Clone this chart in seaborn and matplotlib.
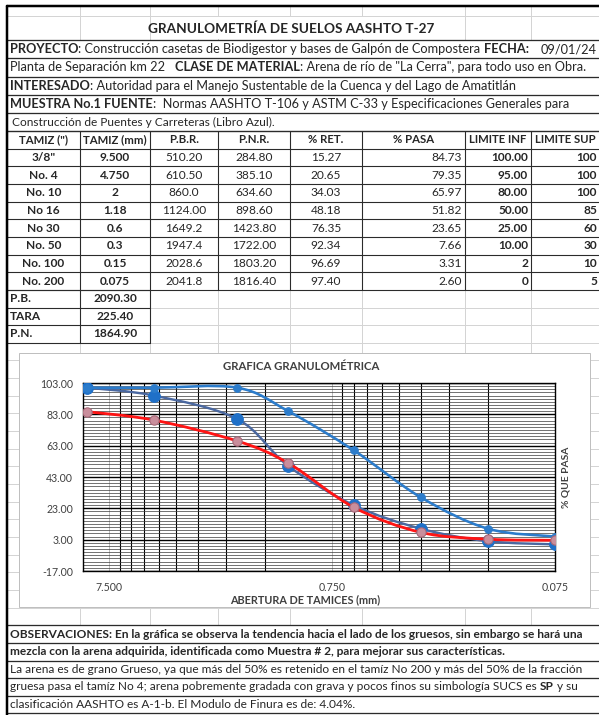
import numpy as np
import matplotlib
matplotlib.use("Agg")
import matplotlib.pyplot as plt
import seaborn as sns
from matplotlib.path import Path
from matplotlib.patches import PathPatch, Rectangle
from matplotlib.ticker import FixedLocator, FuncFormatter, NullFormatter

# ---- valores de la hoja ----
tamiz_pulg = ['3/8"', "No. 4", "No. 10", "No 16", "No 30", "No. 50", "No. 100", "No. 200"]
tamiz_mm = [9.5, 4.75, 2.0, 1.18, 0.6, 0.3, 0.15, 0.075]
tamiz_mm_lbl = ["9.500", "4.750", "2", "1.18", "0.6", "0.3", "0.15", "0.075"]
pbr = ["510.20", "610.50", "860.0", "1124.00", "1649.2", "1947.4", "2028.6", "2041.8"]
pnr = ["284.80", "385.10", "634.60", "898.60", "1423.80", "1722.00", "1803.20", "1816.40"]
pct_ret = [15.27, 20.65, 34.03, 48.18, 76.35, 92.34, 96.69, 97.40]
pct_pasa = [84.73, 79.35, 65.97, 51.82, 23.65, 7.66, 3.31, 2.60]
lim_inf = [100, 95, 80, 50, 25, 10, 2, 0]
lim_inf_lbl = ["100.00", "95.00", "80.00", "50.00", "25.00", "10.00", "2", "0"]
lim_sup = [100, 100, 100, 85, 60, 30, 10, 5]
tot_lbl = ["P.B.", "TARA", "P.N."]
tot_val = ["2090.30", "225.40", "1864.90"]
headers = ['TAMIZ (")', "TAMIZ (mm)", "P.B.R.", "P.N.R.", "% RET.", "% PASA", "LIMITE INF", "LIMITE SUP"]
y_ticks = [-17, 3, 23, 43, 63, 83, 103]
x_ticks = [7.5, 0.75, 0.075]

sns.set_style("white")
plt.rcParams["font.family"] = ["Lato", "DejaVu Sans"]

W, H = 599, 715
fig = plt.figure(figsize=(W / 100, H / 100), dpi=100)
bg = fig.add_axes([0, 0, 1, 1])
bg.set_xlim(0, W)
bg.set_ylim(H, 0)
bg.axis("off")


def lw(p):
    return p * 0.72


FS = 8.6      # tabla
FS_TXT = 9.2  # filas de texto de arriba
FS_OBS = 8.55  # observaciones
LIGHT = "#D4D4D4"
DARK = "#2B2B2B"
cols = [7, 80, 150, 218, 290, 362, 465, 531, 605]
rh = 17.65
y_head = 131
top_rows = [40, 58.2, 76.6, 95, 113.2, y_head]
tab_rows = [y_head + rh * k for k in range(0, 13)]
obs_rows = [y_head + rh * k for k in range(28, 34)]
grid_rows = [y_head + rh * k for k in range(0, 34)]

# cuadricula clara de la hoja
for x in cols[1:-1]:
    bg.plot([x, x], [6, H], color=LIGHT, lw=lw(1), zorder=1)
for y in [16] + top_rows + grid_rows:
    bg.plot([7, W], [y, y], color=LIGHT, lw=lw(1), zorder=1)
# zonas con texto desbordado (sin cuadricula)
bg.add_patch(Rectangle((8, top_rows[0]), W, y_head - top_rows[0], fc="white", ec="none", zorder=2))
bg.add_patch(Rectangle((152, 17), 290, top_rows[0] - 18, fc="white", ec="none", zorder=2))
bg.add_patch(Rectangle((8, obs_rows[0]), W, H, fc="white", ec="none", zorder=2))
bg.add_patch(Rectangle((19, 353), 571, 254, fc="white", ec="#BFBFBF", lw=lw(1), zorder=3))

# bordes oscuros
bg.plot([7, W], [6, 6], color="black", lw=lw(2.5), zorder=6)
bg.plot([7, 7], [6, H], color="black", lw=lw(2.5), zorder=6)
for y in top_rows:
    bg.plot([7, W], [y, y], color=DARK, lw=lw(1.3), zorder=5)
for y in tab_rows[:10]:
    bg.plot([7, W], [y, y], color=DARK, lw=lw(1.1), zorder=5)
for x in cols[:-1]:
    bg.plot([x, x], [tab_rows[0], tab_rows[9]], color=DARK, lw=lw(1.1), zorder=5)
for y in tab_rows[9:13]:
    bg.plot([7, 150], [y, y], color=DARK, lw=lw(1.1), zorder=5)
for x in cols[:3]:
    bg.plot([x, x], [tab_rows[9], tab_rows[12]], color=DARK, lw=lw(1.1), zorder=5)
for y in obs_rows:
    bg.plot([7, W], [y, y], color=DARK, lw=lw(1.3), zorder=5)


def rich(x, y, parts, size=FS_TXT):
    prev = None
    for txt, w, gap in parts:
        if prev is None:
            prev = bg.text(x, y, txt, fontsize=size, fontweight=w, ha="left", va="center", zorder=7)
        else:
            prev = bg.annotate(txt, xy=(1, 0.5), xycoords=prev, xytext=(gap * 0.26 * size, 0),
                               textcoords="offset points", fontsize=size, fontweight=w,
                               ha="left", va="center", zorder=7)


def mid(r, k):
    return (r[k] + r[k + 1]) / 2


bg.text(291, 29, "GRANULOMETRÍA DE SUELOS AASHTO T-27", fontsize=9.8, fontweight="bold",
        ha="center", va="center", zorder=7)
rich(10, mid(top_rows, 0), [("PROYECTO", "bold", 0),
                            (": Construcción casetas de Biodigestor y bases de Galpón de Compostera", "normal", 0),
                            ("FECHA:", "bold", 1)])
bg.text(597, mid(top_rows, 0), "09/01/24", fontsize=FS_TXT, ha="right", va="center", zorder=7)
rich(10, mid(top_rows, 1), [("Planta de Separación km 22", "normal", 0), ("CLASE DE MATERIAL", "bold", 3),
                            (': Arena de río de "La Cerra", para todo uso en Obra.', "normal", 0)])
rich(10, mid(top_rows, 2), [("INTERESADO", "bold", 0),
                            (": Autoridad para el Manejo Sustentable de la Cuenca y del Lago de Amatitlán", "normal", 0)])
rich(10, mid(top_rows, 3), [("MUESTRA No.1 FUENTE", "bold", 0),
                            (":  Normas AASHTO T-106 y ASTM C-33 y Especificaciones Generales para", "normal", 0)])
rich(12, mid(top_rows, 4), [("Construcción de Puentes y Carreteras (Libro Azul).", "normal", 0)], size=8.6)

# tabla
for j, h in enumerate(headers):
    bg.text((cols[j] + cols[j + 1]) / 2 if j < 7 else 565, mid(tab_rows, 0), h, fontsize=8.2,
            fontweight="bold", ha="center", va="center", zorder=7)


def cell(j, k, txt, ha="center", bold=False):
    x = (cols[j] + cols[j + 1]) / 2 if ha == "center" else min(cols[j + 1] - 3, 597)
    bg.text(x, mid(tab_rows, k), txt, fontsize=FS, fontweight="bold" if bold else "normal",
            ha=ha, va="center", zorder=7)


for i in range(len(tamiz_mm)):
    k = 1 + i
    cell(0, k, tamiz_pulg[i], bold=True)
    cell(1, k, tamiz_mm_lbl[i], bold=True)
    cell(2, k, pbr[i])
    cell(3, k, pnr[i])
    cell(4, k, f"{pct_ret[i]:.2f}")
    cell(5, k, f"{pct_pasa[i]:.2f}", ha="right")
    cell(6, k, lim_inf_lbl[i], ha="right", bold=True)
    cell(7, k, f"{lim_sup[i]}", ha="right", bold=True)
for i in range(len(tot_lbl)):
    bg.text(10, mid(tab_rows, 9 + i), tot_lbl[i], fontsize=FS, fontweight="bold", va="center", zorder=7)
    cell(1, 9 + i, tot_val[i], bold=True)

# observaciones
rich(10, mid(obs_rows, 0), [("OBSERVACIONES: En la gráfica se observa la tendencia hacia el lado de los gruesos, sin embargo se hará una", "bold", 0)], FS_OBS)
rich(10, mid(obs_rows, 1), [("mezcla con la arena adquirida, identificada como Muestra # 2, para mejorar sus características.", "bold", 0)], FS_OBS)
rich(10, mid(obs_rows, 2), [("La arena es de grano Grueso, ya que más del 50% es retenido en el tamíz No 200 y más del 50% de la fracción", "normal", 0)], FS_OBS)
rich(10, mid(obs_rows, 3), [("gruesa pasa el tamíz No 4; arena pobremente gradada con grava y pocos finos su simbología SUCS es", "normal", 0),
                            ("SP", "bold", 1), ("y su", "normal", 1)], FS_OBS)
rich(10, mid(obs_rows, 4), [("clasificación AASHTO es A-1-b. El Modulo de Finura es de: 4.04%.", "normal", 0)], FS_OBS)

# ---- grafica ----
x0, x1, y0, y1 = 83, 555, 383, 571
ax = fig.add_axes([x0 / W, 1 - y1 / H, (x1 - x0) / W, (y1 - y0) / H])
ax.set_xscale("log")
ax.set_xlim(9.85, 0.075)
ax.set_ylim(-17, 103)
ax.xaxis.set_major_locator(FixedLocator(x_ticks))
ax.xaxis.set_minor_locator(FixedLocator([k * t for t in (0.075, 0.75) for k in range(2, 10)]))
ax.xaxis.set_major_formatter(FuncFormatter(lambda v, p: f"{v:.3f}"))
ax.xaxis.set_minor_formatter(NullFormatter())
ax.yaxis.set_major_locator(FixedLocator(y_ticks))
ax.yaxis.set_minor_locator(FixedLocator(np.arange(-17, 104, 2)))
ax.yaxis.set_major_formatter(FuncFormatter(lambda v, p: f"{v:.2f}"))
ax.grid(which="major", axis="x", color="#BDBDBD", lw=lw(1))
ax.grid(which="minor", axis="x", color="black", lw=lw(1.1))
ax.grid(which="major", axis="y", color="black", lw=lw(1.4))
ax.grid(which="minor", axis="y", color="#3C3C3C", lw=lw(0.7))
ax.set_axisbelow(True)
ax.tick_params(which="both", length=0)
ax.tick_params(axis="x", pad=lw(11), labelsize=7.6, labelcolor="#404040")
ax.tick_params(axis="y", pad=lw(10), labelsize=7.6, labelcolor="#404040")
for s in ax.spines.values():
    s.set_color("black")
    s.set_linewidth(lw(1.4))


def smooth(xs, ys):
    p = np.column_stack([np.log10(xs), ys])
    n = len(p)
    verts, codes = [p[0]], [Path.MOVETO]
    for i in range(n - 1):
        a, b = p[max(i - 1, 0)], p[i]
        c, d = p[i + 1], p[min(i + 2, n - 1)]
        verts += [b + (c - a) / 6, c - (d - b) / 6, c]
        codes += [Path.CURVE4] * 3
    v = np.array(verts)
    v[:, 0] = 10 ** v[:, 0]
    return Path(v, codes)


series = [
    (lim_inf, "#4A68A0", lw(2.4), "#1F70C8", "#1F70C8", 70, 3),
    (lim_sup, "#2C7CCB", lw(2.6), "#2C7CCB", "#2C7CCB", 30, 4),
    (pct_pasa, "#FF1414", lw(2.8), "#C98E9C", "#A86878", 45, 5),
]
for ys, lc, lwid, mfc, mec, ms, z in series:
    ax.add_patch(PathPatch(smooth(tamiz_mm, ys), fill=False, ec=lc, lw=lwid, zorder=z,
                           capstyle="round", joinstyle="round"))
    sns.scatterplot(x=tamiz_mm, y=ys, ax=ax, s=ms, color=mfc, edgecolor=mec, linewidth=0.8,
                    zorder=z + 0.5, legend=False)
ax.set_xlabel("")
ax.set_ylabel("")

bg.text(301, 366, "GRAFICA GRANULOMÉTRICA", fontsize=8.2, fontweight="bold", color="#404040",
        ha="center", va="center", zorder=7)
bg.text(305, 600, "ABERTURA DE TAMICES (mm)", fontsize=7.8, fontweight="bold", color="#404040",
        ha="center", va="center", zorder=7)
bg.text(566, 477, "% QUE PASA", fontsize=7.4, fontweight="bold", color="#404040", rotation=90,
        ha="center", va="center", zorder=7)

fig.savefig("out.png", dpi=100)
